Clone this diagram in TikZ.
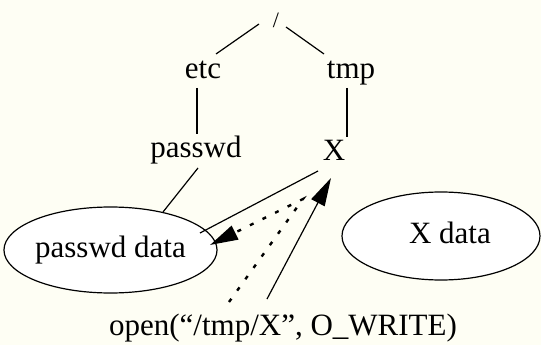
\documentclass[tikz,border=0pt]{standalone}
\usepackage{fontspec}
\setmainfont{LiberationSerif}[Extension=.ttf, UprightFont=*-Regular, BoldFont=*-Bold, ItalicFont=*-Italic, BoldItalicFont=*-BoldItalic]
\usetikzlibrary{arrows.meta,shapes.geometric,calc}
\definecolor{bg}{RGB}{254,254,244}
\begin{document}
\begin{tikzpicture}[x=1pt,y=-1pt,
  lbl/.style={inner sep=0pt, anchor=base, font=\fontsize{31}{37}\selectfont},
  blob/.style={ellipse, draw, fill=white, line width=1.2pt, inner sep=0pt,
    font=\fontsize{31}{37}\selectfont, text height=21pt, text depth=7pt},
  edge/.style={line width=1.2pt},
  dots/.style={line width=2.4pt, dash pattern=on 4pt off 10pt},
  tip/.style={-{Triangle[length=28pt,width=15pt]}}
]
\fill[bg] (0,0) rectangle (541,345);
\useasboundingbox (0,0) rectangle (541,345);

\node[lbl, font=\fontsize{22}{26}\selectfont] (root) at (276,28) {/};
\node[lbl] (etc) at (203,78) {etc};
\node[lbl] (tmp) at (351,78) {tmp};
\node[lbl] (passwd) at (196,157) {passwd};
\node[lbl] (X) at (334,160) {X};
\node[blob, minimum width=191pt, minimum height=86pt] (pd) at (110.5,250) {passwd data};
\node[blob, minimum width=198pt, minimum height=88pt] (xd) at (441,236) {\hspace*{18pt}X data};
\node[lbl] (op) at (283,335) {open(“/tmp/X”, O\_WRITE)};

\draw[edge] ($(root.base)+(-17,-4)$) -- ($(etc.base)+(13,-24)$);
\draw[edge] ($(root.base)+(10,-1)$) -- ($(tmp.base)+(-27,-24)$);
\draw[edge] ($(etc.base)+(-6,10)$) -- ($(passwd.base)+(1,-23)$);
\draw[edge] ($(tmp.base)+(-4,10)$) -- ($(X.base)+(13,-23)$);
\draw[edge] ($(passwd.base)+(2,11)$) -- ($(pd.center)+(52.5,-38)$);
\draw[edge] ($(X.base)+(-16,11)$) -- ($(pd.center)+(89.5,-17)$);
\coordinate (bend) at ($(X.base)+(-31,39)$);
\draw[dots, tip] ($(op.base)+(-54,-33)$) -- (bend) -- ($(pd.center)+(99.5,-5)$);
\draw[edge, tip] ($(op.base)+(-16,-36)$) -- ($(X.base)+(-3,18)$);
\end{tikzpicture}
\end{document}
